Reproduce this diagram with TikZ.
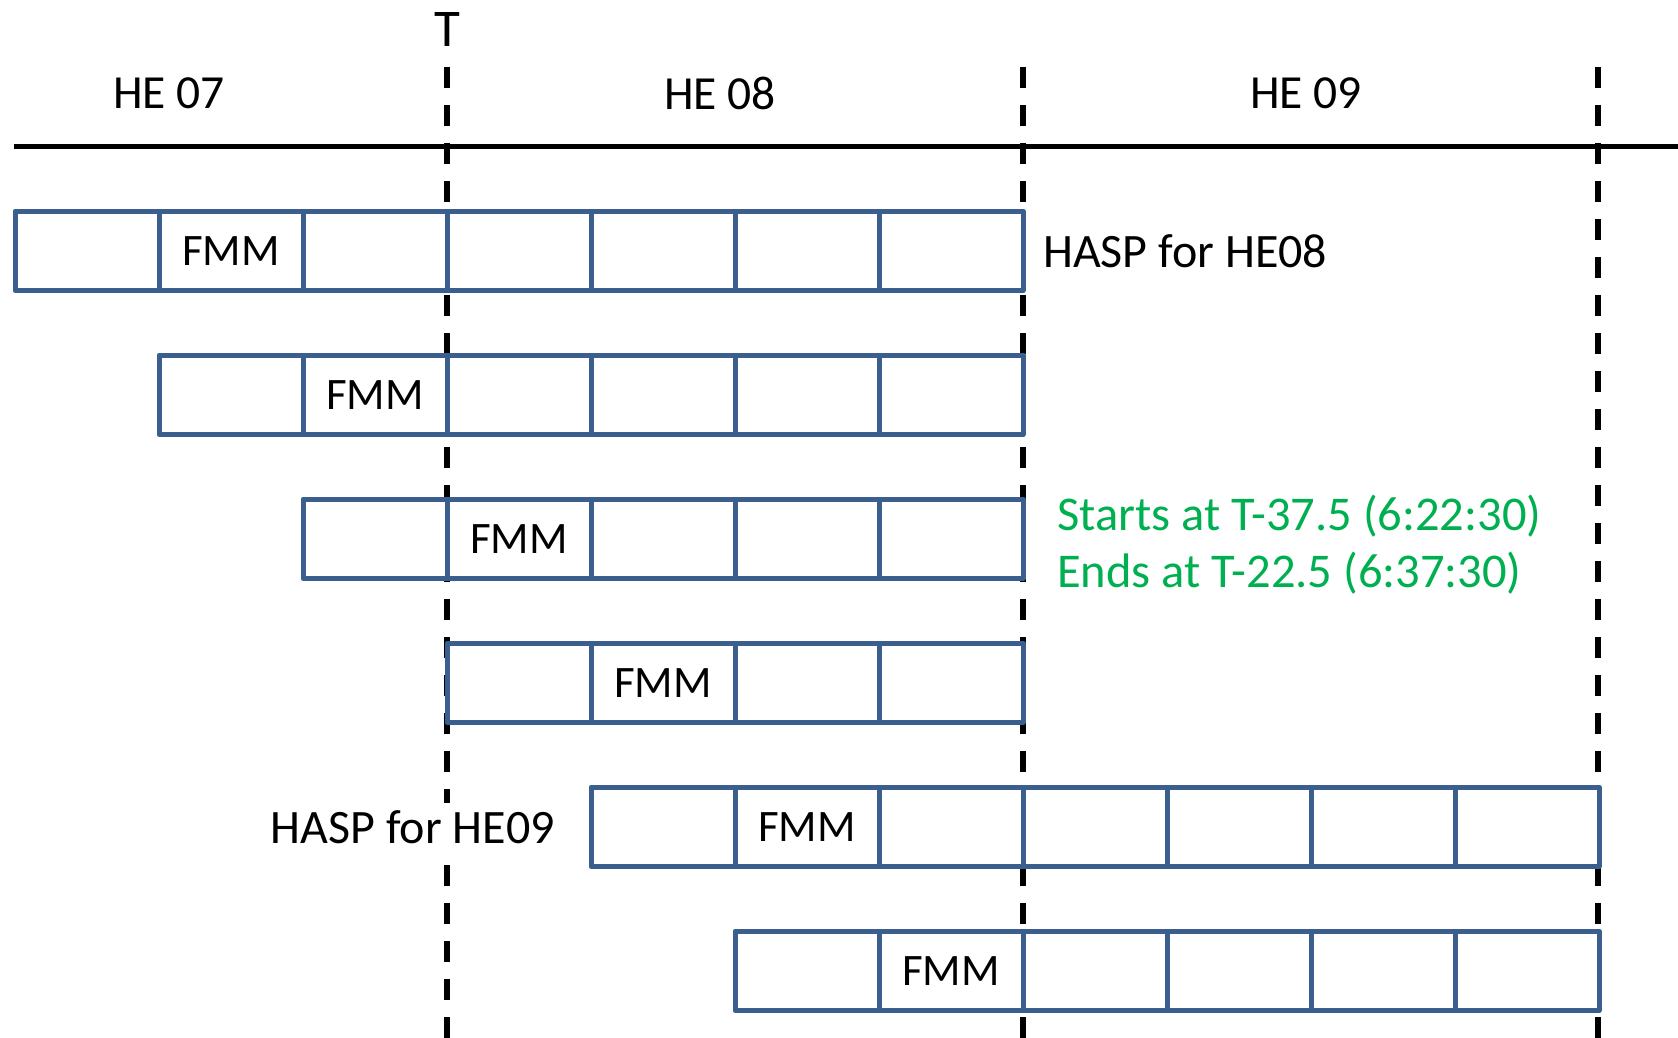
\documentclass[tikz,border=0pt]{standalone}
\usepackage{fontspec}
\setmainfont{Carlito}
\definecolor{cellblue}{HTML}{3A5F8E}
\definecolor{notegreen}{HTML}{00B050}
\begin{document}
\begin{tikzpicture}[x=1pt,y=-1pt,
  cell/.style={draw=cellblue, line width=5pt, fill=white,
    minimum width=144pt, minimum height=79.5pt, inner sep=0pt, outer sep=0pt,
    line join=round, anchor=north west, font=\fontsize{45}{54}\selectfont},
  hourmark/.style={draw=black, line width=6pt, dash pattern=on 21pt off 17pt},
  axisline/.style={draw=black, line width=5pt},
  label/.style={inner sep=0pt, font=\fontsize{47.5}{56}\selectfont},
  runlabel/.style={inner sep=0pt, font=\fontsize{48}{57}\selectfont},
  note/.style={inner sep=0pt, text=notegreen, align=left,
    font=\fontsize{48.5}{57}\selectfont}]
\useasboundingbox (0,0) rectangle (1678,1038);

% hour boundaries
\foreach \i/\x in {1/447,2/1022.5,3/1598} {
  \coordinate (h\i top) at (\x,67);
  \coordinate (h\i bot) at (\x,1040);
  \draw[hourmark] (h\i top) -- (h\i bot);
}

% time axis
\coordinate (axL) at (14,146.5);
\coordinate (axR) at (1680,146.5);
\draw[axisline] (axL) -- (axR);

% hour labels
\node[label, font=\fontsize{53}{60}\selectfont] (T) at (447,29) {T};
\node[label] (he07) at (169,93) {HE 07};
\node[label] (he08) at (720,93) {HE 08};
\node[label] (he09) at (1306,93) {HE 09};

% HASP runs: row / first column / number of intervals
\foreach \r/\s/\n in {1/0/7, 2/1/6, 3/2/5, 4/3/4, 5/4/7, 6/5/6} {
  \foreach \j in {1,...,\n} {
    \pgfmathsetmacro\cx{15+144*(\s+\j-1)}
    \pgfmathsetmacro\cy{211+144*(\r-1)}
    \node[cell] (r\r c\j) at (\cx,\cy) {\ifnum\j=2 \raisebox{-2pt}{FMM}\fi};
  }
}

% run labels
\node[runlabel, anchor=west] (hasp08) at (1043,251) {HASP for HE08};
\node[runlabel, anchor=east, fill=white, inner xsep=0pt, inner ysep=7pt]
  (hasp09) at (555,827) {HASP for HE09};
\node[note, anchor=north west] (fmmnote) at (1057,495)
  {Starts at T-37.5 (6:22:30)\\Ends at T-22.5 (6:37:30)};
\end{tikzpicture}
\end{document}
